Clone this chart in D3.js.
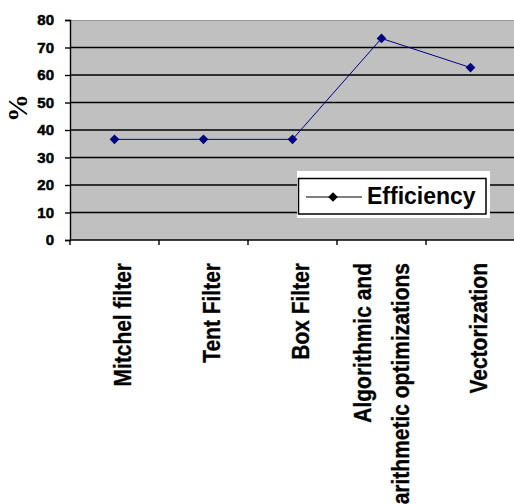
<!DOCTYPE html>
<html>
<head>
<meta charset="utf-8">
<script src="https://cdn.jsdelivr.net/npm/d3@7"></script>
<style>
  html, body { margin: 0; padding: 0; background: #ffffff; }
  svg { display: block; }
</style>
</head>
<body>
<svg id="chart" width="514" height="504"></svg>
<script>
const categories = ["Mitchel filter", "Tent Filter", "Box Filter", "Algorithmic and\narithmetic optimizations", "Vectorization"];
const efficiency = [36.6, 36.6, 36.6, 73.3, 62.7];
const yTicks = [0, 10, 20, 30, 40, 50, 60, 70, 80];
const seriesName = "Efficiency";
const yTitle = "%";

(function () {
const svg = d3.select("#chart");
const W = 514;
const pLeft = 70, pTop = 20, pBottom = 240, pRight = 515;

const x = d3.scaleBand().domain(categories).range([pLeft, pRight]).padding(0);
const y = d3.scaleLinear().domain([0, 80]).range([pBottom, pTop]);

// plot background
svg.append("rect")
  .attr("x", pLeft).attr("y", pTop)
  .attr("width", pRight - pLeft).attr("height", pBottom - pTop)
  .attr("fill", "#c0c0c0");
svg.append("line")
  .attr("x1", pLeft).attr("x2", pRight).attr("y1", pTop + 0.5).attr("y2", pTop + 0.5)
  .attr("stroke", "#9a9a9a").attr("stroke-width", 1);

// gridlines
svg.append("g").selectAll("line")
  .data(yTicks.filter(d => d > 0 && d < 80))
  .join("line")
  .attr("x1", pLeft).attr("x2", pRight)
  .attr("y1", d => y(d)).attr("y2", d => y(d))
  .attr("stroke", "#000").attr("stroke-width", 1.4);

// y axis
const yAxis = svg.append("g")
  .attr("transform", `translate(${pLeft},0)`)
  .call(d3.axisLeft(y).tickValues(yTicks).tickSize(5).tickPadding(11).tickFormat(d3.format("d")));
yAxis.select(".domain").attr("stroke", "#000").attr("stroke-width", 1.4);
yAxis.selectAll(".tick line").attr("stroke", "#000").attr("stroke-width", 1.4);
yAxis.selectAll("text")
  .attr("font-family", "'Liberation Sans', Arial, sans-serif")
  .attr("font-weight", "bold").attr("font-size", 15).attr("fill", "#000")
  .attr("stroke", "#000").attr("stroke-width", 0.5);

// x axis line + ticks at band boundaries
svg.append("line")
  .attr("x1", pLeft).attr("x2", W).attr("y1", pBottom).attr("y2", pBottom)
  .attr("stroke", "#000").attr("stroke-width", 1.4);
const boundaries = categories.map(c => x(c)).concat([x(categories[categories.length - 1]) + x.bandwidth()]);
svg.append("g").selectAll("line")
  .data(boundaries)
  .join("line")
  .attr("x1", d => d).attr("x2", d => d)
  .attr("y1", pBottom).attr("y2", pBottom + 5)
  .attr("stroke", "#000").attr("stroke-width", 1.4);

// x labels (rotated)
const labelG = svg.append("g");
categories.forEach(c => {
  const lines = c.split("\n");
  const cx = x(c) + x.bandwidth() / 2 + (lines.length === 1 ? 8 : 0);
  const lh = 38;
  lines.forEach((ln, i) => {
    const off = (i - (lines.length - 1) / 2) * lh;
    const bx = cx + off + 8;
    labelG.append("text")
      .attr("transform", `translate(${bx},263) rotate(-90) scale(1,1.15)`)
      .attr("text-anchor", "end")
      .attr("font-family", "'Liberation Sans', Arial, sans-serif")
      .attr("font-weight", "bold").attr("font-size", 21).attr("fill", "#000")
      .attr("stroke", "#000").attr("stroke-width", 0.3)
      .text(ln);
  });
});

// y title
svg.append("text")
  .attr("transform", "translate(27,108) rotate(-90)")
  .attr("text-anchor", "middle")
  .attr("font-family", "'Liberation Serif', 'Times New Roman', serif")
  .attr("font-weight", "bold").attr("font-size", 28).attr("fill", "#000")
  .text(yTitle);

// series line
const line = d3.line().x((d, i) => x(categories[i]) + x.bandwidth() / 2).y(d => y(d));
svg.append("path")
  .attr("d", line(efficiency))
  .attr("fill", "none").attr("stroke", "#000080").attr("stroke-width", 1);

const diamond = d3.symbolDiamond2 || d3.symbolDiamond;
svg.append("g").selectAll("path")
  .data(efficiency)
  .join("path")
  .attr("transform", (d, i) => `translate(${x(categories[i]) + x.bandwidth() / 2},${y(d)})`)
  .attr("d", d3.symbol().type(diamond).size(60))
  .attr("fill", "#000080");

// legend
const lg = svg.append("g");
lg.append("rect").attr("x", 297).attr("y", 171).attr("width", 193).attr("height", 47).attr("fill", "#fff");
lg.append("rect").attr("x", 298.5).attr("y", 178.5).attr("width", 187.5).attr("height", 35.5)
  .attr("fill", "#fff").attr("stroke", "#000").attr("stroke-width", 1.5);
lg.append("line").attr("x1", 306).attr("x2", 362).attr("y1", 197).attr("y2", 197)
  .attr("stroke", "#000").attr("stroke-width", 1.2);
lg.append("path").attr("transform", "translate(333,197)")
  .attr("d", d3.symbol().type(diamond).size(60)).attr("fill", "#000");
lg.append("text").attr("x", 367).attr("y", 204)
  .attr("font-family", "'Liberation Sans', Arial, sans-serif")
  .attr("font-weight", "bold").attr("font-size", 23).attr("fill", "#000")
  .text(seriesName);
})();
</script>
</body>
</html>
